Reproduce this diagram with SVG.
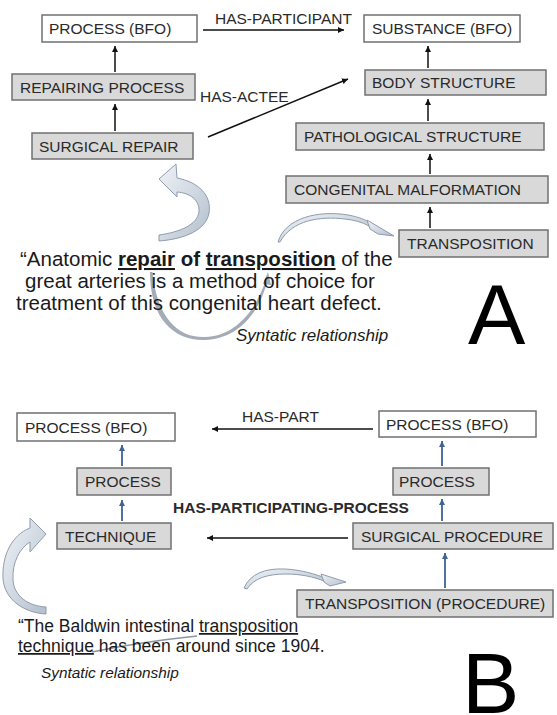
<svg xmlns="http://www.w3.org/2000/svg" width="557" height="715" viewBox="0 0 557 715">
<style>
.box{fill:#fff;stroke:#707070;stroke-width:1.5}
.gbox{fill:#d9d9d9;stroke:#707070;stroke-width:1.5}
.lbl{font-family:"Liberation Sans",Arial,sans-serif;font-size:15.5px;fill:#2a2a2a}
.rel{font-family:"Liberation Sans",Arial,sans-serif;font-size:15.5px;fill:#2a2a2a}
.sent{font-family:"Liberation Sans",Arial,sans-serif;fill:#1a1a1a}
.k{stroke:#111;stroke-width:1.5;fill:none}
.b{stroke:#3f6394;stroke-width:1.8;fill:none}
.blk{fill:url(#g1);stroke:#8f9cae;stroke-width:1}
.thin{fill:#a3acb7;stroke:none}
.big{font-family:"Liberation Sans",Arial,sans-serif;font-size:86px;fill:#000}
</style>
<defs>
<marker id="ak" markerUnits="userSpaceOnUse" markerWidth="8" markerHeight="8" refX="6" refY="3" orient="auto"><path d="M0,0 L6,3 L0,6 z" fill="#111"/></marker>
<marker id="ab" markerUnits="userSpaceOnUse" markerWidth="8" markerHeight="8" refX="6" refY="3" orient="auto"><path d="M0,0 L6,3 L0,6 z" fill="#3f6394"/></marker>
<linearGradient id="g1" x1="0" y1="0" x2="1" y2="1"><stop offset="0" stop-color="#f0f3f7"/><stop offset="1" stop-color="#b3bfcd"/></linearGradient>
</defs>

<!-- Part A nodes -->
<g id="a-process-bfo"><rect class="box" x="42" y="15" width="155" height="27"/><text class="lbl" x="49" y="34">PROCESS (BFO)</text></g>
<g id="a-substance-bfo"><rect class="box" x="364" y="15" width="156" height="27"/><text class="lbl" x="372" y="34">SUBSTANCE (BFO)</text></g>
<g id="a-repairing-process"><rect class="gbox" x="12" y="74" width="183" height="26"/><text class="lbl" x="20" y="92.5">REPAIRING PROCESS</text></g>
<g id="a-body-structure"><rect class="gbox" x="365" y="70" width="181" height="25"/><text class="lbl" x="372" y="88">BODY STRUCTURE</text></g>
<g id="a-surgical-repair"><rect class="gbox" x="32" y="133" width="161" height="26"/><text class="lbl" x="39" y="151.5">SURGICAL REPAIR</text></g>
<g id="a-pathological-structure"><rect class="gbox" x="296" y="123" width="248" height="27"/><text class="lbl" x="304" y="142">PATHOLOGICAL STRUCTURE</text></g>
<g id="a-congenital-malformation"><rect class="gbox" x="286" y="176" width="262" height="27"/><text class="lbl" x="294" y="195">CONGENITAL MALFORMATION</text></g>
<g id="a-transposition"><rect class="gbox" x="399" y="230" width="149" height="27"/><text class="lbl" x="407" y="249">TRANSPOSITION</text></g>

<!-- Part B nodes -->
<g id="b-process-bfo-left"><rect class="box" x="17" y="413" width="158" height="28"/><text class="lbl" x="25" y="432.5">PROCESS (BFO)</text></g>
<g id="b-process-bfo-right"><rect class="box" x="379" y="411" width="157" height="26"/><text class="lbl" x="386" y="429.5">PROCESS (BFO)</text></g>
<g id="b-process-left"><rect class="gbox" x="77" y="468" width="94" height="27"/><text class="lbl" x="85" y="487">PROCESS</text></g>
<g id="b-process-right"><rect class="gbox" x="393" y="468" width="96" height="27"/><text class="lbl" x="399" y="487">PROCESS</text></g>
<g id="b-technique"><rect class="gbox" x="57" y="523" width="114" height="26"/><text class="lbl" x="65" y="541.5">TECHNIQUE</text></g>
<g id="b-surgical-procedure"><rect class="gbox" x="353" y="523" width="200" height="26"/><text class="lbl" x="361" y="541.5">SURGICAL PROCEDURE</text></g>
<g id="b-transposition-procedure"><rect class="gbox" x="297" y="590" width="256" height="27"/><text class="lbl" x="305" y="609">TRANSPOSITION (PROCEDURE)</text></g>

<!-- connectors -->
<g id="connectors">
<line class="k" x1="203" y1="30" x2="344" y2="30" marker-end="url(#ak)"/>
<line class="k" x1="208" y1="137" x2="348" y2="79" marker-end="url(#ak)"/>
<line class="k" x1="115" y1="72" x2="115" y2="46" marker-end="url(#ak)"/>
<line class="k" x1="115" y1="131" x2="115" y2="104" marker-end="url(#ak)"/>
<line class="k" x1="428" y1="68" x2="428" y2="46" marker-end="url(#ak)"/>
<line class="k" x1="428" y1="121" x2="428" y2="99" marker-end="url(#ak)"/>
<line class="k" x1="430" y1="174" x2="430" y2="154" marker-end="url(#ak)"/>
<line class="k" x1="430" y1="228" x2="430" y2="207" marker-end="url(#ak)"/>
<line class="k" x1="373" y1="429" x2="212" y2="429" marker-end="url(#ak)" stroke-width="1.3"/>
<line class="k" x1="348" y1="538" x2="207" y2="538" marker-end="url(#ak)" stroke-width="1.3"/>
<line class="b" x1="122" y1="466" x2="122" y2="445" marker-end="url(#ab)"/>
<line class="b" x1="122" y1="521" x2="122" y2="500" marker-end="url(#ab)"/>
<line class="b" x1="442" y1="466" x2="442" y2="441" marker-end="url(#ab)"/>
<line class="b" x1="442" y1="521" x2="442" y2="499" marker-end="url(#ab)"/>
<line class="b" x1="445" y1="588" x2="445" y2="553" marker-end="url(#ab)"/>
<text class="rel" x="215" y="24">HAS-PARTICIPANT</text>
<text class="rel" x="200" y="102">HAS-ACTEE</text>
<text class="rel" x="242" y="422">HAS-PART</text>
<text class="rel" x="173" y="513" font-weight="bold" font-size="13.8px">HAS-PARTICIPATING-PROCESS</text>
</g>

<!-- curved arrows -->
<g id="curves">
<path class="blk" d="M159,179 L176,164 L177,178 C198,182 212,195 209,213 C206,230 185,239 159,241 L159,235 C180,232 197,225 199,212 C200,200 190,193 177,192 L177,197 Z"/>
<path class="blk" d="M278,242 C285,218 318,210 348,215 C359,217 366,220 371,223 L369,226 C362,222 354,220 345,219 C320,216 292,220 280,242 Z"/>
<path class="blk" d="M367,220 L394,236 L378,234 L370,229 Z"/>
<path class="thin" d="M150,272 C150,320 175,341 205,340 C235,339 258,318 268,279 L266.5,278 C255,314 233,336.5 205,337 C178,338 157,318 152.5,272 Z"/>
<path class="thin" d="M263,284 L268,272 L271,285 Z"/>
<path class="blk" d="M46,534 L30,518 L30,528 C12,535 2,555 3,578 C4,600 25,613 46,614 L46,607 C28,606 14,596 13,580 C12,562 20,548 30,542 L30,552 Z"/>
<path class="blk" d="M244,588 C250,574 265,568 285,569 C302,570 315,574 325,578 L324,581 C314,577 301,574 286,574 C268,574 254,578 247,589 Z"/>
<path class="blk" d="M321,574 L346,582 L330,586 L324,582 Z"/>
<path d="M92,652 Q140,642 197,636" fill="none" stroke="#8a94a0" stroke-width="1.4"/>
</g>

<!-- sentences -->
<g id="texts">
<text class="sent" font-size="20.5px"><tspan x="20" y="266">“Anatomic </tspan><tspan font-weight="bold" text-decoration="underline">repair</tspan><tspan font-weight="bold"> of </tspan><tspan font-weight="bold" text-decoration="underline">transposition</tspan><tspan> of the</tspan></text>
<text class="sent" font-size="20.5px" x="25" y="288">great arteries is a method of choice for</text>
<text class="sent" font-size="20.5px" x="16" y="310">treatment of this congenital heart defect.</text>
<text class="sent" font-size="17px" font-style="italic" x="236" y="341">Syntatic relationship</text>
<text class="big" x="468" y="344">A</text>
<text class="sent" font-size="17.5px"><tspan x="18" y="632">“The Baldwin intestinal </tspan><tspan text-decoration="underline">transposition</tspan></text>
<text class="sent" font-size="17.5px"><tspan x="18" y="652" text-decoration="underline">technique</tspan><tspan> has been around since 1904.</tspan></text>
<text class="sent" font-size="15.4px" font-style="italic" x="41" y="678">Syntatic relationship</text>
<text class="big" x="462" y="713">B</text>
</g>
</svg>
